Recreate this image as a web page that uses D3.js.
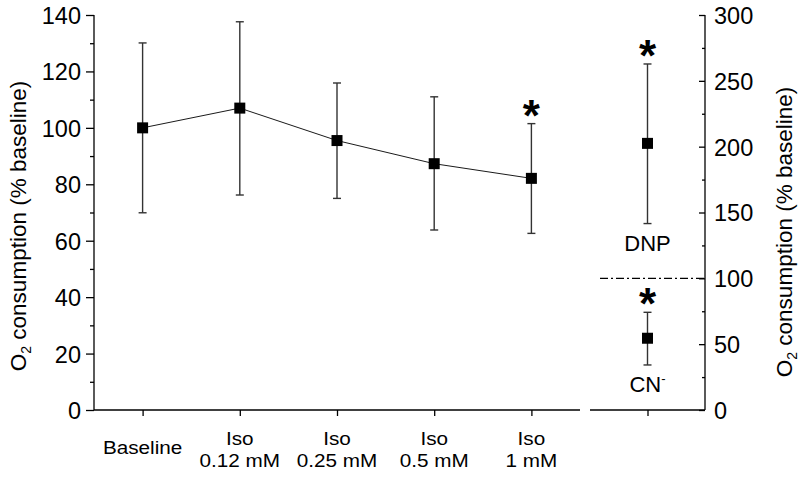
<!DOCTYPE html>
<html><head><meta charset="utf-8">
<script src="https://cdn.jsdelivr.net/npm/d3@7"></script>
<style>body{margin:0;background:#fff}svg{display:block;font-family:"Liberation Sans",Arial,sans-serif}</style>
</head><body><svg id="c" width="800" height="478"></svg>
<script>
const categories = ["Baseline", "Iso|0.12 mM", "Iso|0.25 mM", "Iso|0.5 mM", "Iso|1 mM"];
const means = [100, 107, 95.5, 87.3, 82.1];
const upper = [130.1, 137.6, 115.9, 111, 101.5];
const lower = [69.9, 76.2, 75, 63.8, 62.6];
const starred = [false, false, false, false, true];
const leftTicks = [0, 20, 40, 60, 80, 100, 120, 140];
const rightTicks = [0, 50, 100, 150, 200, 250, 300];
const rightLabels = ["DNP", "CN"];
const rightMeans = [202.5, 54.5];
const rightUpper = [262.8, 74.2];
const rightLower = [141.6, 34.2];
const refLine = 100;
const yTitle = "consumption (% baseline)";

const svg = d3.select("#c");
const yL = d3.scaleLinear().domain([0, 140]).range([410, 15]);
const yR = d3.scaleLinear().domain([0, 300]).range([410, 15]);
const xL = d3.scalePoint().domain(categories).range([94, 580]).padding(0.5);
const xR = d3.scalePoint().domain(["r"]).range([590, 705]).padding(0.5);
const txt = "#000";

// left axis
const gL = svg.append("g").attr("transform", "translate(94,0)");
gL.call(d3.axisLeft(yL).tickValues(d3.range(0, 141, 10)).tickSize(4).tickFormat(""));
gL.call(g => g.selectAll(".tick").filter(d => d % 20 === 0).select("line").attr("x2", -8));
gL.selectAll(".tick").filter(d => leftTicks.includes(d)).append("text")
  .attr("x", -13).attr("dy", "0.36em").attr("text-anchor", "end")
  .attr("font-size", 23.5).attr("fill", txt).text(d => d);
gL.select(".domain").attr("d", "M0,410V15");
gL.selectAll("line,path").attr("stroke", "#000").attr("stroke-width", 1.3);

// right axis
const gR = svg.append("g").attr("transform", "translate(705,0)");
gR.call(d3.axisLeft(yR).tickValues(d3.range(0, 301, 25)).tickSize(3).tickFormat(""));
gR.call(g => g.selectAll(".tick").filter(d => d % 50 === 0).select("line").attr("x2", -6));
gR.selectAll(".tick").filter(d => rightTicks.includes(d)).append("text")
  .attr("x", 9).attr("dy", "0.36em").attr("text-anchor", "start")
  .attr("font-size", 23.5).attr("fill", txt).text(d => d);
gR.select(".domain").attr("d", "M0,410V15");
gR.selectAll("line,path").attr("stroke", "#000").attr("stroke-width", 1.3);

// bottom axes
const gB = svg.append("g").attr("transform", "translate(0,410)");
gB.call(d3.axisBottom(xL).tickSize(6).tickFormat(""));
gB.select(".domain").attr("d", "M94,0H580");
gB.selectAll("line,path").attr("stroke", "#000").attr("stroke-width", 1.3);
const gB2 = svg.append("g").attr("transform", "translate(0,410)");
gB2.call(d3.axisBottom(xR).tickSize(6).tickFormat(""));
gB2.select(".domain").attr("d", "M590,0H705");
gB2.selectAll("line,path").attr("stroke", "#000").attr("stroke-width", 1.3);

// category labels
categories.forEach(c => {
  const parts = c.split("|");
  const t = svg.append("text").attr("text-anchor", "middle").attr("font-size", 18.5).attr("fill", txt)
    .attr("transform", `translate(${xL(c)},0) scale(1.12,1)`);
  if (parts.length === 1) {
    t.append("tspan").attr("x", 0).attr("y", 454).text(parts[0]);
  } else {
    t.append("tspan").attr("x", 0).attr("y", 445).text(parts[0]);
    t.append("tspan").attr("x", 0).attr("y", 467).text(parts[1]);
  }
});

// axis titles
function title(x, y) {
  const t = svg.append("text").attr("transform", `translate(${x},${y}) rotate(-90)`)
    .attr("text-anchor", "middle").attr("font-size", 22.5).attr("fill", txt);
  t.append("tspan").text("O");
  t.append("tspan").attr("font-size", 14).attr("dy", 5).text("2");
  t.append("tspan").attr("dy", -5).text(" " + yTitle);
}
title(26, 226);
title(792, 232);

// dash-dot reference line
svg.append("line").attr("x1", 600).attr("x2", 705).attr("y1", yR(refLine)).attr("y2", yR(refLine))
  .attr("stroke", "#000").attr("stroke-width", 1.2).attr("stroke-dasharray", "8,3,2,3");

// connecting line
svg.append("path").datum(categories)
  .attr("d", d3.line().x(d => xL(d)).y((d, i) => yL(means[i])))
  .attr("fill", "none").attr("stroke", "#000").attr("stroke-width", 0.9);

function errbar(x, yTop, yBot) {
  const g = svg.append("g").attr("stroke", "#333").attr("stroke-width", 1.4);
  g.append("line").attr("x1", x).attr("x2", x).attr("y1", yTop).attr("y2", yBot);
  g.append("line").attr("x1", x - 4).attr("x2", x + 4).attr("y1", yTop).attr("y2", yTop);
  g.append("line").attr("x1", x - 4).attr("x2", x + 4).attr("y1", yBot).attr("y2", yBot);
}
function marker(x, y) {
  svg.append("rect").attr("x", x - 5.5).attr("y", y - 5.5).attr("width", 11).attr("height", 11).attr("fill", "#000");
}
function star(x, capY) {
  svg.append("text").attr("x", x).attr("y", capY + 7).attr("text-anchor", "middle")
    .attr("font-size", 44).attr("font-weight", "bold").attr("fill", "#000").text("*");
}

categories.forEach((c, i) => {
  errbar(xL(c), yL(upper[i]), yL(lower[i]));
  marker(xL(c), yL(means[i]));
  if (starred[i]) star(xL(c), yL(upper[i]));
});

rightMeans.forEach((m, i) => {
  const x = xR("r");
  errbar(x, yR(rightUpper[i]), yR(rightLower[i]));
  marker(x, yR(m));
  star(x, yR(rightUpper[i]));
});

// right labels
svg.append("text").attr("x", xR("r")).attr("y", yR(rightLower[0]) + 27).attr("text-anchor", "middle")
  .attr("font-size", 22).attr("fill", txt).text(rightLabels[0]);
const cn = svg.append("text").attr("x", xR("r")).attr("y", yR(rightLower[1]) + 27).attr("text-anchor", "middle")
  .attr("font-size", 22).attr("fill", txt);
cn.append("tspan").text(rightLabels[1]);
cn.append("tspan").attr("font-size", 13).attr("dy", -9).text("-");
</script></body></html>
